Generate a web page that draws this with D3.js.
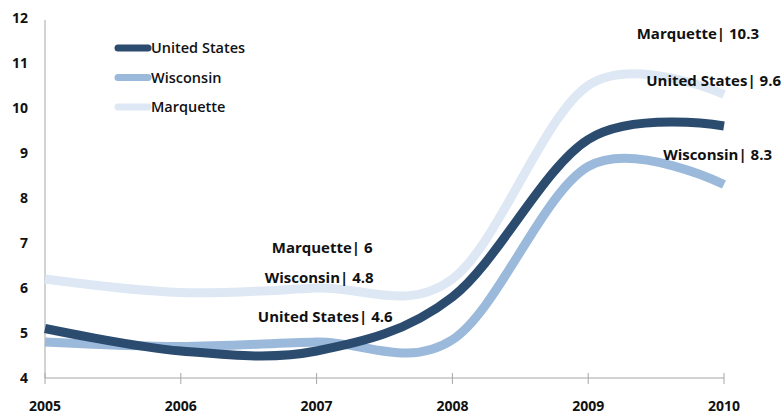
<!DOCTYPE html>
<html>
<head>
<meta charset="utf-8">
<script src="https://cdn.jsdelivr.net/npm/d3@7"></script>
<style>
  body { margin: 0; background: #fff; }
  text { font-family: "Open Sans", sans-serif; font-weight: bold; fill: #111; }
</style>
</head>
<body>
<svg id="chart" width="781" height="414"></svg>
<script>
var years = [2005, 2006, 2007, 2008, 2009, 2010];
var yTicks = [4, 5, 6, 7, 8, 9, 10, 11, 12];

var unitedStates = [5.1, 4.6, 4.6, 5.8, 9.3, 9.6];
var wisconsin = [4.8, 4.7, 4.8, 4.85, 8.7, 8.3];
var marquette = [6.2, 5.9, 6.0, 6.2, 10.5, 10.3];

var seriesNames = ['United States', 'Wisconsin', 'Marquette'];
var seriesColors = ['#2b4b6f', '#9bb9da', '#dde8f4'];

// which years get a data label, per series
var labelYears = [[2007, 2010], [2007, 2010], [2007, 2010]];

var svg = d3.select('#chart');

var x = d3.scaleLinear().domain([2005, 2010]).range([45, 724]);
var y = d3.scaleLinear().domain([4, 12]).range([378, 18]);

// y axis: just the line and labels
svg.append('line')
  .attr('x1', x(2005)).attr('x2', x(2005))
  .attr('y1', y(12) + 2).attr('y2', y(4))
  .attr('stroke', '#a6a6a6').attr('stroke-width', 1);

svg.selectAll('.ylab')
  .data(yTicks)
  .enter().append('text')
  .attr('class', 'ylab')
  .attr('x', 28)
  .attr('y', function(d) { return y(d); })
  .attr('dy', '0.35em')
  .attr('text-anchor', 'end')
  .style('font-size', '14px')
  .text(function(d) { return d; });

// x axis
svg.append('line')
  .attr('x1', x(2005)).attr('x2', x(2010))
  .attr('y1', y(4)).attr('y2', y(4))
  .attr('stroke', '#a6a6a6').attr('stroke-width', 1);

svg.selectAll('.xtick')
  .data(years)
  .enter().append('line')
  .attr('class', 'xtick')
  .attr('x1', function(d) { return x(d); })
  .attr('x2', function(d) { return x(d); })
  .attr('y1', y(4) - 5).attr('y2', y(4) + 6)
  .attr('stroke', '#a6a6a6');

svg.selectAll('.xlab')
  .data(years)
  .enter().append('text')
  .attr('class', 'xlab')
  .attr('x', function(d) { return x(d); })
  .attr('y', 406)
  .attr('dy', '0.35em')
  .attr('text-anchor', 'middle')
  .style('font-size', '14px')
  .text(function(d) { return d; });

var allSeries = [unitedStates, wisconsin, marquette];

var line = d3.line()
  .x(function(d, i) { return x(years[i]); })
  .y(function(d) { return y(d); })
  .curve(d3.curveCatmullRom.alpha(0));

// draw back to front so the dark line sits on top
[2, 1, 0].forEach(function(s) {
  svg.append('path')
    .datum(allSeries[s])
    .attr('d', line)
    .attr('fill', 'none')
    .attr('stroke', seriesColors[s])
    .attr('stroke-width', 9);
});

// legend
seriesNames.forEach(function(name, i) {
  var ly = 48 + i * 29.5;
  svg.append('line')
    .attr('x1', 118).attr('x2', 148)
    .attr('y1', ly).attr('y2', ly)
    .attr('stroke', seriesColors[i])
    .attr('stroke-width', 7)
    .attr('stroke-linecap', 'round');
  svg.append('text')
    .attr('x', 151).attr('y', ly)
    .attr('dy', '0.35em')
    .style('font-size', '14.5px')
    .style('font-weight', '600')
    .text(name);
});

// data labels, right aligned, offsets from their point
var labelOffsets = {
  'United States-2007': [76, -34],
  'Wisconsin-2007': [57, -64],
  'Marquette-2007': [56, -40],
  'United States-2010': [57, -45],
  'Wisconsin-2010': [48, -30],
  'Marquette-2010': [35, -61]
};

seriesNames.forEach(function(name, s) {
  labelYears[s].forEach(function(yr) {
    var i = years.indexOf(yr);
    var v = allSeries[s][i];
    var off = labelOffsets[name + '-' + yr];
    svg.append('text')
      .attr('x', x(yr) + off[0])
      .attr('y', y(v) + off[1])
      .attr('dy', '0.35em')
      .attr('text-anchor', 'end')
      .style('font-size', '15px')
      .text(name + '| ' + v);
  });
});
</script>
</body>
</html>
